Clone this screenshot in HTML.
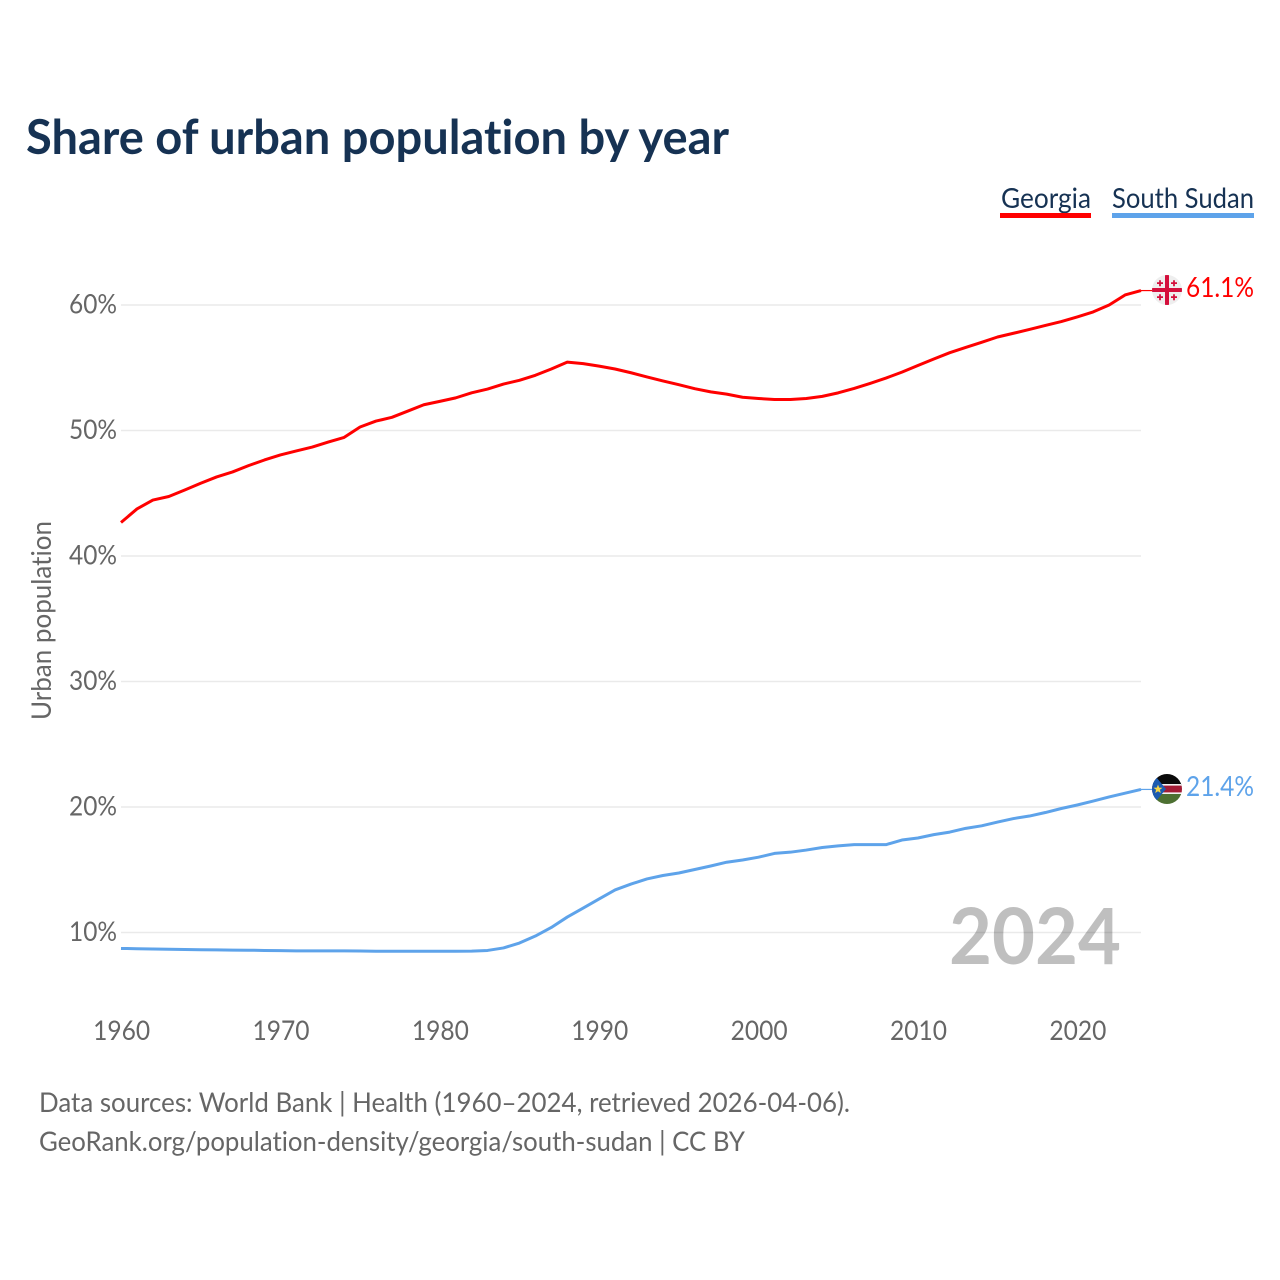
<!DOCTYPE html>
<html lang="en">
<head>
<meta charset="utf-8">
<title>Share of urban population by year</title>
<style>
html,body{margin:0;padding:0;background:#fff}
svg{display:block}
text{font-family:Lato,Carlito,"Liberation Sans",sans-serif;font-variant-ligatures:none}
</style>
</head>
<body>
<svg id="chart" xmlns="http://www.w3.org/2000/svg" width="1280" height="1280" viewBox="0 0 1280 1280">
  <defs>
    <clipPath id="flag-clip-ge"><circle cx="1167" cy="290" r="15"/></clipPath>
    <clipPath id="flag-clip-ss"><circle cx="1167" cy="789" r="15"/></clipPath>
  </defs>
  <rect width="1280" height="1280" fill="#fff"/>
  <text x="26" y="154" font-size="48" font-weight="700" fill="#163253" textLength="703" lengthAdjust="spacingAndGlyphs">Share of urban population by year</text>

  <g>
    <g>
      <text x="1001" y="208" font-size="28" fill="#163253" textLength="90" lengthAdjust="spacingAndGlyphs">Georgia</text>
      <rect x="1000" y="213" width="91" height="5" fill="#ff0000"/>
    </g>
    <g>
      <text x="1112" y="208" font-size="28" fill="#163253" textLength="142" lengthAdjust="spacingAndGlyphs">South Sudan</text>
      <rect x="1112" y="213" width="142" height="5" fill="#5ea3ea"/>
    </g>
  </g>

  <g id="grid"></g>
  <g id="yticks"></g>
  <g id="xticks"></g>
  <text transform="translate(51,620.5) rotate(-90)" text-anchor="middle" font-size="27" fill="#666" textLength="199" lengthAdjust="spacingAndGlyphs">Urban population</text>

  <text x="1121" y="964" text-anchor="end" font-size="78" font-weight="700" fill="#000" fill-opacity="0.25" textLength="172" lengthAdjust="spacingAndGlyphs">2024</text>

  <path id="line-georgia" fill="none" stroke="#ff0000" stroke-width="3" stroke-linejoin="round"/>
  <path id="line-south-sudan" fill="none" stroke="#5ea3ea" stroke-width="3" stroke-linejoin="round"/>
  <line id="connector-georgia" stroke="#ff0000" stroke-width="1.2"/>
  <line id="connector-south-sudan" stroke="#5ea3ea" stroke-width="1.2"/>

  <g clip-path="url(#flag-clip-ge)">
    <rect x="1152" y="275" width="30" height="30" fill="#eeeeee"/>
    <rect x="1152" y="288" width="30" height="4" fill="#d40f3c"/>
    <rect x="1165" y="275" width="4" height="30" fill="#d40f3c"/>
    <path d="M1157 282.2h6v1.8h-6zM1159.1 280.2h1.8v6h-1.8zM1171 282.2h6v1.8h-6zM1173.1 280.2h1.8v6h-1.8zM1157 296.2h6v1.8h-6zM1159.1 294.2h1.8v6h-1.8zM1171 296.2h6v1.8h-6zM1173.1 294.2h1.8v6h-1.8z" fill="#d40f3c"/>
  </g>
  <g clip-path="url(#flag-clip-ss)">
    <rect x="1152" y="774" width="30" height="11" fill="#0a0a0a"/>
    <rect x="1152" y="784" width="30" height="10" fill="#f2f2f2"/>
    <rect x="1152" y="785.6" width="30" height="6.8" fill="#a31b35"/>
    <rect x="1152" y="794" width="30" height="10" fill="#4d7032"/>
    <polygon points="1152,772 1152,806 1166,789" fill="#1c5bb0"/>
    <polygon points="1158,784.5 1159.2,787.6 1162.5,787.7 1159.9,789.8 1160.8,793 1158,791.2 1155.2,793 1156.1,789.8 1153.5,787.7 1156.8,787.6" fill="#f5d547"/>
  </g>
  <text id="value-georgia" x="1186" y="297" font-size="28" fill="#ff0000" textLength="68" lengthAdjust="spacingAndGlyphs"></text>
  <text id="value-south-sudan" x="1186" y="796" font-size="28" fill="#5ea3ea" textLength="68" lengthAdjust="spacingAndGlyphs"></text>

  <text x="39" y="1112" font-size="27" fill="#666" textLength="811" lengthAdjust="spacingAndGlyphs">Data sources: World Bank | Health (1960–2024, retrieved 2026-04-06).</text>
  <text x="39" y="1151" font-size="27" fill="#666" textLength="706" lengthAdjust="spacingAndGlyphs">GeoRank.org/population-density/georgia/south-sudan | CC BY</text>
</svg>
<script>
const firstYear = 1960;
const georgiaValues = [42.67,43.75,44.46,44.74,45.26,45.8,46.3,46.7,47.2,47.65,48.05,48.37,48.68,49.08,49.45,50.28,50.75,51.05,51.55,52.05,52.32,52.6,53.0,53.3,53.7,54.0,54.4,54.9,55.45,55.33,55.13,54.9,54.6,54.27,53.95,53.65,53.33,53.08,52.9,52.65,52.55,52.47,52.47,52.55,52.72,53.0,53.35,53.75,54.18,54.65,55.18,55.7,56.2,56.62,57.03,57.45,57.75,58.05,58.37,58.68,59.05,59.45,60.0,60.8,61.15];
const southSudanValues = [8.73,8.71,8.69,8.67,8.65,8.63,8.62,8.6,8.59,8.57,8.56,8.54,8.54,8.54,8.54,8.53,8.51,8.51,8.51,8.51,8.51,8.51,8.52,8.57,8.77,9.16,9.72,10.4,11.23,11.95,12.67,13.39,13.86,14.27,14.54,14.74,15.02,15.3,15.6,15.78,16.0,16.3,16.4,16.57,16.77,16.9,17.0,17.0,17.0,17.37,17.53,17.8,18.0,18.3,18.5,18.8,19.08,19.28,19.56,19.88,20.16,20.47,20.8,21.1,21.4];
const yTickValues = [10,20,30,40,50,60];
const xTickYears = [1960,1970,1980,1990,2000,2010,2020];
const georgiaLatestLabel = "61.1%";
const southSudanLatestLabel = "21.4%";

const svgNS = "http://www.w3.org/2000/svg";
function xScale(year){ return 121 + (year - 1960) * (1141 - 121) / 64; }
function yScale(value){ return 932.5 - (value - 10) * (932.5 - 305) / 50; }
function linePath(values){
  return values.map(function(v,i){
    return (i ? "L" : "M") + xScale(firstYear + i).toFixed(2) + " " + yScale(v).toFixed(2);
  }).join("");
}
const grid = document.getElementById("grid");
const yticks = document.getElementById("yticks");
const xticks = document.getElementById("xticks");
yTickValues.forEach(function(v){
  const gl = document.createElementNS(svgNS,"line");
  
  
  gl.setAttribute("x1",121);
  gl.setAttribute("x2",1141);
  gl.setAttribute("y1",yScale(v));
  gl.setAttribute("y2",yScale(v));
  gl.setAttribute("stroke","#eaeaea");
  gl.setAttribute("stroke-width","1.5");
  grid.appendChild(gl);
  const t = document.createElementNS(svgNS,"text");
  
  
  t.setAttribute("x",117);
  t.setAttribute("y",yScale(v)+8.5);
  t.setAttribute("text-anchor","end");
  t.setAttribute("font-size","27");
  t.setAttribute("fill","#666");
  t.setAttribute("textLength","48");
  t.setAttribute("lengthAdjust","spacingAndGlyphs");
  t.textContent = v + "%";
  yticks.appendChild(t);
});
xTickYears.forEach(function(y){
  const t = document.createElementNS(svgNS,"text");
  
  
  t.setAttribute("x",xScale(y)+0.6);
  t.setAttribute("y",1040);
  t.setAttribute("text-anchor","middle");
  t.setAttribute("font-size","27");
  t.setAttribute("fill","#666");
  t.setAttribute("textLength","57");
  t.setAttribute("lengthAdjust","spacingAndGlyphs");
  t.textContent = y;
  xticks.appendChild(t);
});
document.getElementById("line-georgia").setAttribute("d",linePath(georgiaValues));
document.getElementById("line-south-sudan").setAttribute("d",linePath(southSudanValues));
function connector(id,values){
  const el = document.getElementById(id);
  const yy = yScale(values[values.length-1]);
  el.setAttribute("x1",xScale(firstYear + values.length - 1));
  el.setAttribute("x2",1153);
  el.setAttribute("y1",yy);
  el.setAttribute("y2",yy);
}
connector("connector-georgia",georgiaValues);
connector("connector-south-sudan",southSudanValues);
document.getElementById("value-georgia").textContent = georgiaLatestLabel;
document.getElementById("value-south-sudan").textContent = southSudanLatestLabel;
</script>
</body>
</html>
